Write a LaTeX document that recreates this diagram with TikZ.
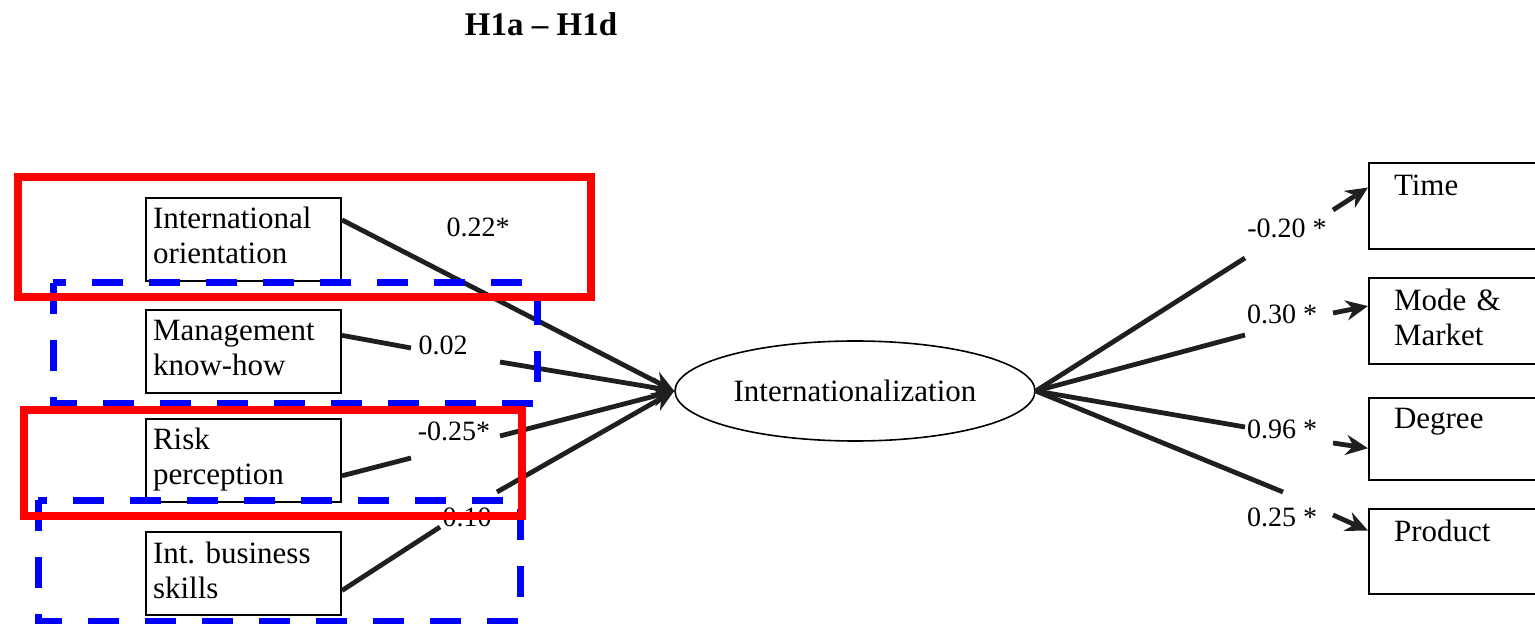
\documentclass[tikz,border=0pt]{standalone}
\usepackage{fontspec}
\setmainfont{Liberation Serif}
\usetikzlibrary{arrows.meta,shapes.geometric,calc}
\begin{document}
\begin{tikzpicture}[x=0.5pt,y=-0.5pt,
  boxfont/.style={font=\fontsize{15.5}{17.5}\selectfont},
  factor/.style={boxfont, draw, line width=1pt, rectangle, anchor=north west,
    minimum width=97.5pt, minimum height=41.5pt, inner xsep=3.5pt, inner ysep=0pt,
    text width=90.5pt, align=left},
  outcome/.style={boxfont, draw, line width=1pt, rectangle, anchor=north west,
    minimum width=88.5pt, minimum height=43pt, inner xsep=12.5pt, inner ysep=0pt,
    text width=63.5pt, align=left},
  coef/.style={font=\fontsize{14}{16}\selectfont, inner sep=0pt},
  link/.style={line width=2.4pt, draw=black!88},
  arr/.style={link, -{Stealth[length=11pt,width=10pt]}},
  redframe/.style={draw=red, line width=4pt},
  blueframe/.style={draw=blue, line width=3.5pt, dash pattern=on 15.5pt off 13pt},
]
\useasboundingbox (0,0) rectangle (1535,624);
\clip (0,0) rectangle (1535,624);

% heading
\node[font=\fontsize{16.5}{18}\selectfont\bfseries] (head) at (541,24) {H1a -- H1d};

% antecedent factors
\node[factor] (io) at (145,197) {\strut International\\\strut orientation};
\node[factor] (mk) at (145,309) {\strut Management\\\strut know-how};
\node[factor] (rk) at (145,418) {\strut Risk\\\strut perception};
\node[factor] (ib) at (145,531) {\strut Int.\ business\\\strut skills};

% latent construct
\node[draw, ellipse, line width=0.8pt, minimum width=180pt, minimum height=50pt,
      inner sep=0pt, boxfont] (intl) at (855,391) {Internationalization};

% dimensions of internationalization
\node[outcome, minimum height=43pt] (tm) at (1368,162) {\strut Time\\\strut};
\node[outcome, minimum height=43pt] (md) at (1368,277) {\strut Mode \&\\\strut Market};
\node[outcome, minimum height=41pt] (dg) at (1368,397) {\strut Degree\\\strut};
\node[outcome, minimum height=42.5pt] (pr) at (1368,508) {\strut Product\\\strut};

% path coefficients
\node[coef] (c-io) at (478,227) {0.22*};
\node[coef] (c-mk) at (443,345) {0.02};
\node[coef] (c-rk) at (454,431) {-0.25*};
\node[coef] (c-ib) at (467,517) {0.10};
\node[coef] (c-tm) at (1287,228) {-0.20 *};
\node[coef] (c-md) at (1282,314) {0.30 *};
\node[coef] (c-dg) at (1282,429) {0.96 *};
\node[coef] (c-pr) at (1282,517) {0.25 *};

% break points of the paths around the coefficients
\coordinate (mk-a) at (411,348);
\coordinate (mk-b) at (500,362);
\coordinate (rk-a) at (411,458);
\coordinate (rk-b) at (500,436);
\coordinate (ib-a) at (440,527);
\coordinate (ib-b) at (497,492);
\coordinate (tm-a) at (1245,258);
\coordinate (tm-b) at (1333,210);
\coordinate (md-a) at (1245,335);
\coordinate (md-b) at (1333,313);
\coordinate (dg-a) at (1245,427);
\coordinate (dg-b) at (1333,443);
\coordinate (pr-a) at (1283,492);
\coordinate (pr-b) at (1333,515);

% paths into the construct
\draw[arr] ($(io.north east)!0.27!(io.south east)$) -- (intl.west);
\draw[link] ($(mk.north east)!0.31!(mk.south east)$) -- (mk-a);
\draw[arr] (mk-b) -- (intl.west);
\draw[link] ($(rk.north east)!0.68!(rk.south east)$) -- (rk-a);
\draw[arr] (rk-b) -- (intl.west);
\draw[link] ($(ib.north east)!0.7!(ib.south east)$) -- (ib-a);
\draw[arr] (ib-b) -- (intl.west);

% paths out of the construct
\draw[link] (intl.east) -- (tm-a);
\draw[arr] (tm-b) -- ($(tm.north west)!0.29!(tm.south west)$);
\draw[link] (intl.east) -- (md-a);
\draw[arr] (md-b) -- ($(md.north west)!0.33!(md.south west)$);
\draw[link] (intl.east) -- (dg-a);
\draw[arr] (dg-b) -- ($(dg.north west)!0.61!(dg.south west)$);
\draw[link] (intl.east) -- (pr-a);
\draw[arr] (pr-b) -- ($(pr.north west)!0.26!(pr.south west)$);

% grouping frames
\draw[blueframe] (53,283) rectangle (537,404);
\draw[blueframe] (38,500) rectangle (520,621);
\draw[redframe] (18,177) rectangle (591,297);
\draw[redframe] (24,410) rectangle (522,516);
\end{tikzpicture}
\end{document}
